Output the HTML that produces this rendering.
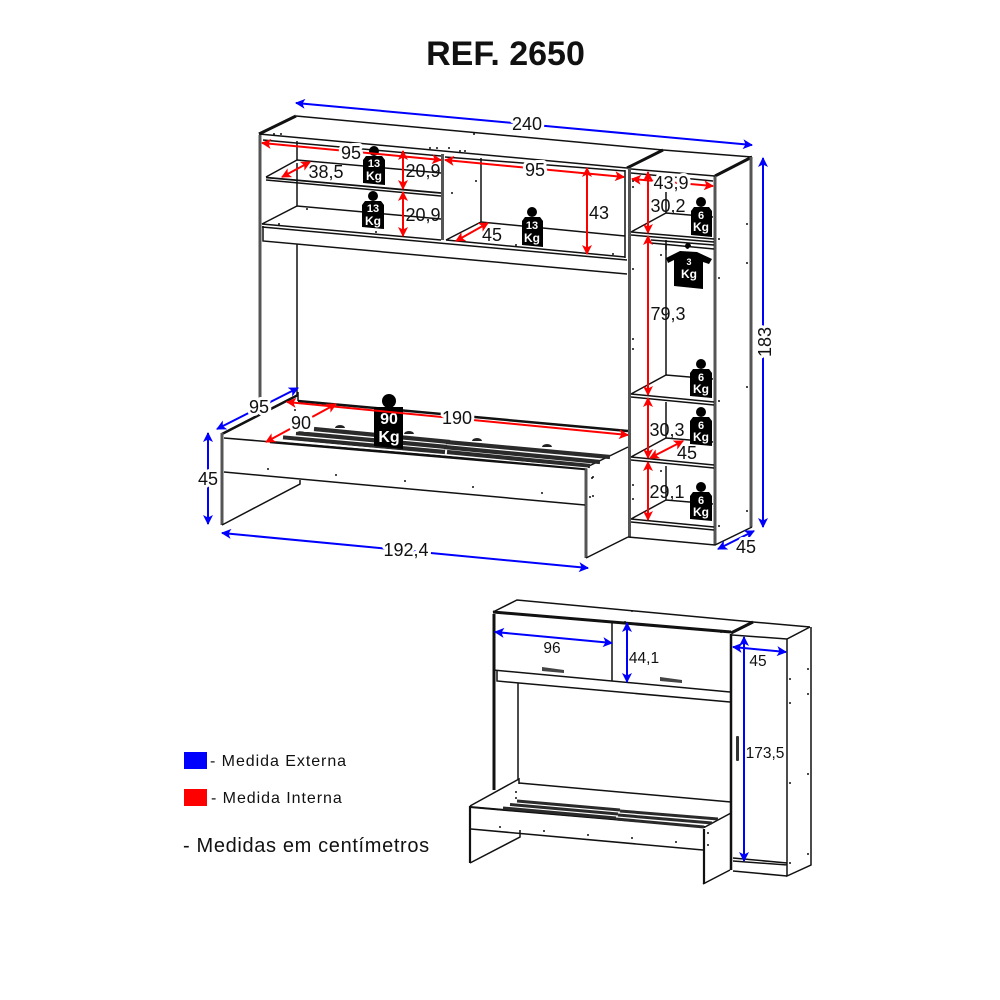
<!DOCTYPE html>
<html><head><meta charset="utf-8">
<style>
html,body{margin:0;padding:0;background:#fff;width:1000px;height:1000px;overflow:hidden}
svg{display:block}
text{font-family:"Liberation Sans",sans-serif;fill:#111}
.l{font-size:18px;text-anchor:middle}
.h{paint-order:stroke;stroke:#fff;stroke-width:6px;stroke-linejoin:round}
.s{font-size:15.5px;text-anchor:middle}
.w{fill:#fff;font-weight:bold;text-anchor:middle}
.k{fill:none;stroke:#111;stroke-width:1.5}
.t{fill:none;stroke:#111;stroke-width:3}
.g{fill:none;stroke:#555;stroke-width:3.5}
.r{stroke:#f00;stroke-width:2;fill:none;marker-start:url(#ra);marker-end:url(#ra)}
.b{stroke:#00f;stroke-width:2;fill:none;marker-start:url(#ba);marker-end:url(#ba)}
.sl{stroke:#2a2a2a;stroke-width:4.2;fill:none}
.sw{stroke:#fff;stroke-width:1;fill:none}
</style></head><body>
<svg width="1000" height="1000" viewBox="0 0 1000 1000" xmlns="http://www.w3.org/2000/svg">
<defs>
<marker id="ra" viewBox="0 0 10 10" refX="9" refY="5" markerWidth="5" markerHeight="5" orient="auto-start-reverse"><path d="M0 0L10 5L0 10L2.5 5Z" fill="#f00"/></marker>
<marker id="ba" viewBox="0 0 10 10" refX="9" refY="5" markerWidth="5" markerHeight="5" orient="auto-start-reverse"><path d="M0 0L10 5L0 10L2.5 5Z" fill="#00f"/></marker>
</defs>
<rect width="1000" height="1000" fill="#fff"/>
<text x="505.500" y="65" text-anchor="middle" style="font-size:34px;font-weight:bold">REF. 2650</text>

<!-- main: upper cabinet -->
<path class="k" d="M296 116L663 150L752 157M259 134L627 168M263 140L441 156M445 157L625 171"/>
<path class="t" d="M259 134L296 116M627 168L663 150M715 176L752 157"/>
<path class="g" d="M260 135V398M629.5 168V537M715 176V545M751 157V527M442.500 154V240" style="stroke-width:3"/>
<path class="k" d="M297 141V160M297 163V206M297 244V395M481 158V222M666 192V213M666 240V375M666 402V438M666 466V500"/>
<path class="k" d="M715 176L631 169M631 173L713 181"/>
<!-- shelves left -->
<path class="k" d="M266 177L297 160L441 173M266 180L441 196"/>
<path class="t" d="M266 177.500L441 193" style="stroke-width:1.800"/>
<path class="k" d="M262 224L297 206L441 219M263 226V241L627 274"/>
<path class="k" d="M262 224L441 240M262 227L627 260M446 240L481 222L625 236M446 240L625 257M625 170V258" />
<!-- wardrobe shelves -->
<path class="k" d="M631 232L666 213L713 217M631 232L714 239M631 235L714 242M651 240L714 245M651 243L714 249M666 245V250"/>
<path class="k" d="M631 394L666 375L713 379M631 394L714 402M631 397L714 405"/>
<path class="k" d="M631 457L666 438L713 442M631 457L714 465M631 460L714 468"/>
<path class="k" d="M631 519L666 500L713 504M631 519L714 527M631 522L714 530"/>
<path class="k" d="M628 537L715 545L752 527"/>
<!-- bed -->
<path class="t" d="M222 434L298 395" style="stroke-width:2.500"/>
<path class="g" d="M222 433V525M586 468V558" style="stroke-width:3"/>
<path class="k" d="M298 392V401M224 438L587 468M224 472L585 505M222 525L300 484V480M587 467L628 447M586 558L628 537"/>
<path class="t" d="M298 401L628 431M270 442L585 469" style="stroke-width:2.500"/>
<!-- slats -->
<path class="sl" d="M314 429L450 442M296 433L447 447M283 437.500L445 452M446 442L610 457M444 447L600 462M447 452L590 466"/>
<path class="sw" d="M274 439L445 455L588 468"/>
<path d="M335 428a5 3 0 0 1 10 0zM404 434a5 3 0 0 1 10 0zM472 441a5 3 0 0 1 10 0zM542 447a5 3 0 0 1 10 0z" fill="#222"/>

<!-- dots -->
<g fill="#111">
<circle cx="274" cy="134" r="1"/><circle cx="281" cy="134" r="1"/><circle cx="474" cy="134" r="1"/><circle cx="430" cy="148" r="1"/><circle cx="437" cy="148" r="1"/><circle cx="449" cy="148" r="1"/><circle cx="460" cy="151" r="1"/><circle cx="465" cy="151" r="1"/><circle cx="476" cy="181" r="1"/><circle cx="452" cy="193" r="1"/><circle cx="307" cy="209" r="1"/><circle cx="279" cy="224" r="1"/><circle cx="376" cy="232" r="1"/><circle cx="516" cy="245" r="1"/><circle cx="613" cy="254" r="1"/><circle cx="633" cy="269" r="1"/><circle cx="633" cy="339" r="1"/><circle cx="633" cy="349" r="1"/><circle cx="633" cy="187" r="1"/><circle cx="633" cy="181" r="1"/><circle cx="661" cy="255" r="1"/><circle cx="719" cy="239" r="1"/><circle cx="719" cy="278" r="1"/><circle cx="747" cy="224" r="1"/><circle cx="747" cy="263" r="1"/><circle cx="747" cy="387" r="1"/><circle cx="719" cy="401" r="1"/><circle cx="747" cy="511" r="1"/><circle cx="719" cy="526" r="1"/><circle cx="661" cy="471" r="1"/><circle cx="633" cy="485" r="1"/><circle cx="633" cy="499" r="1"/><circle cx="268" cy="469" r="1"/><circle cx="336" cy="475" r="1"/><circle cx="405" cy="481" r="1"/><circle cx="473" cy="487" r="1"/><circle cx="542" cy="493" r="1"/><circle cx="592" cy="478" r="1"/><circle cx="593" cy="477" r="1"/><circle cx="590" cy="497" r="1"/><circle cx="593" cy="496" r="1"/><circle cx="295" cy="410" r="1"/>
</g>

<!-- weights -->
<g>
<circle cx="374" cy="151" r="5"/><path d="M366 156H382L385 160V185L363 183V160Z"/>
<circle cx="373" cy="196" r="5"/><path d="M365 201H381L384 205V229L362 227V205Z"/>
<circle cx="532" cy="212" r="5"/><path d="M525 217H540L543 221V247L522 245V221Z"/>
<circle cx="701" cy="202" r="5"/><path d="M694 207H709L712 211V237L691 235V211Z"/>
<circle cx="701" cy="364" r="5"/><path d="M693 369H709L712 373V398L690 396V373Z"/>
<circle cx="701" cy="412" r="5"/><path d="M693 417H709L712 421V446L690 444V421Z"/>
<circle cx="701" cy="487" r="5"/><path d="M693 492H709L712 496V521L690 519V496Z"/>
<circle cx="389" cy="401" r="7"/><path d="M374 407H403V449L374 446Z"/>
<path d="M688 249a3 3 0 1 1 3 -3M680 251L697 252L712 259L709 264L703 262V289L674 286V260L668 263L666 258Z"/>
</g>
<g class="w" style="font-size:11px">
<text class="w" x="374" y="167">13</text><text class="w" x="374" y="180" style="font-size:12px">Kg</text>
<text class="w" x="373" y="212">13</text><text class="w" x="373" y="225" style="font-size:12px">Kg</text>
<text class="w" x="532" y="229">13</text><text class="w" x="532" y="242" style="font-size:12px">Kg</text>
<text class="w" x="701" y="219">6</text><text class="w" x="701" y="231" style="font-size:12px">Kg</text>
<text class="w" x="701" y="381">6</text><text class="w" x="701" y="393" style="font-size:12px">Kg</text>
<text class="w" x="701" y="429">6</text><text class="w" x="701" y="441" style="font-size:12px">Kg</text>
<text class="w" x="701" y="504">6</text><text class="w" x="701" y="516" style="font-size:12px">Kg</text>
<text class="w" x="689" y="265" style="font-size:9px">3</text><text class="w" x="689" y="278" style="font-size:12px">Kg</text>
<text class="w" x="389" y="424" style="font-size:16px">90</text><text class="w" x="389" y="442" style="font-size:16px">Kg</text>
</g>

<!-- red dims -->
<path class="r" d="M262 143L441 160"/>
<path class="r" d="M445 160L624 177"/>
<path class="r" d="M403 151V189"/>
<path class="r" d="M403 192V236"/>
<path class="r" d="M282 177L310 162"/>
<path class="r" d="M456 241L488 223"/>
<path class="r" d="M587 168V254"/>
<path class="r" d="M632 179L713 186"/>
<path class="r" d="M648 172V233"/>
<path class="r" d="M648 236V395"/>
<path class="r" d="M648 398V458"/>
<path class="r" d="M650 458L683 441"/>
<path class="r" d="M648 462V520"/>
<path class="r" d="M266 442L336 404"/>
<path class="r" d="M287 402L628 435"/>
<!-- blue dims -->
<path class="b" d="M296 103L752 145"/>
<path class="b" d="M763 158V527"/>
<path class="b" d="M718 549L754 531"/>
<path class="b" d="M217 429L298 388"/>
<path class="b" d="M208 433V524"/>
<path class="b" d="M222 533L588 568"/>

<!-- labels -->
<text class="l h" x="527" y="130">240</text>
<text class="l h" x="351" y="159">95</text>
<text class="l h" x="535" y="176">95</text>
<text class="l" x="423" y="177">20,9</text>
<text class="l" x="423" y="221">20,9</text>
<text class="l" x="326" y="178">38,5</text>
<text class="l" x="492" y="241">45</text>
<text class="l" x="599" y="219">43</text>
<text class="l h" x="671" y="189">43,9</text>
<text class="l" x="668" y="212">30,2</text>
<text class="l" x="668" y="320">79,3</text>
<text class="l" x="667" y="436">30,3</text>
<text class="l" x="687" y="459">45</text>
<text class="l" x="667" y="498">29,1</text>
<text class="l h" x="746" y="553">45</text>
<text class="l h" transform="translate(771,342) rotate(-90)" x="0" y="0">183</text>
<text class="l h" x="259" y="413">95</text>
<text class="l h" x="208" y="485">45</text>
<text class="l h" x="406" y="556">192,4</text>
<text class="l h" x="301" y="429">90</text>
<text class="l h" x="457" y="424">190</text>

<!-- small figure -->
<path class="k" d="M493 612L517 600L753 622L810 627M732 635L787 639L810 627M612 623V681"/>
<path class="t" d="M493 612L731 632M731 633L753 622M494 614V790"/>
<path class="k" d="M493 670L730 692M497 670V681L730 702M518 683V780"/>
<path class="t" d="M731 634V870" style="stroke-width:2.500"/>
<path class="k" d="M733 861L787 865V861M733 871L787 876M787 639V876L811 865V627"/>
<path class="k" d="M733 858L787 863" />
<path class="k" d="M470 806L519 779V784M519 783L731 802M470 807L705 827L731 813M471 829L703 850M470 863L520 837V830M703 884L730 870"/>
<path class="t" d="M470 806V863M704 829V884" style="stroke-width:2.200"/>
<path class="t" d="M470 807L705 827" style="stroke-width:2"/>
<path class="sl" style="stroke-width:3" d="M517 801L620 810M510 804.500L618 814M503 808L616 818M620 811L718 819M618 815L712 823M616 819L704 827"/>
<path d="M542 667L564 670V673L542 671Z" fill="#444"/>
<path d="M660 677L682 680V683L660 681Z" fill="#444"/>
<rect x="736" y="736" width="3" height="25" rx="1" fill="#333"/>
<g fill="#111">
<circle cx="632" cy="611" r="1"/><circle cx="500" cy="613" r="1"/><circle cx="505" cy="613" r="1"/><circle cx="603" cy="621" r="1"/><circle cx="625" cy="622" r="1"/><circle cx="721" cy="632" r="1"/><circle cx="808" cy="669" r="1"/><circle cx="790" cy="679" r="1"/><circle cx="808" cy="694" r="1"/><circle cx="790" cy="703" r="1"/><circle cx="808" cy="774" r="1"/><circle cx="790" cy="783" r="1"/><circle cx="808" cy="854" r="1"/><circle cx="790" cy="863" r="1"/><circle cx="500" cy="827" r="1"/><circle cx="544" cy="831" r="1"/><circle cx="588" cy="835" r="1"/><circle cx="632" cy="838" r="1"/><circle cx="676" cy="842" r="1"/><circle cx="708" cy="833" r="1"/><circle cx="708" cy="845" r="1"/><circle cx="516" cy="792" r="1"/><circle cx="516" cy="798" r="1"/>
</g>
<path class="b" d="M495 632L612 643"/>
<path class="b" d="M627 623V682"/>
<path class="b" d="M733 647L786 652"/>
<path class="b" d="M744 637V861"/>
<text class="s" x="552" y="653">96</text>
<text class="s" x="644" y="663">44,1</text>
<text class="s" x="758" y="666">45</text>
<text class="s h" x="765" y="758" style="stroke-width:3px">173,5</text>

<!-- legend -->
<rect x="184" y="752" width="23" height="17" fill="#00f"/>
<rect x="184" y="789" width="23" height="17" fill="#f00"/>
<text x="210" y="766" style="font-size:16px;letter-spacing:.95px">- Medida Externa</text>
<text x="211" y="803" style="font-size:16px;letter-spacing:.95px">- Medida Interna</text>
<text x="183" y="852" style="font-size:20px;letter-spacing:.65px">- Medidas em centímetros</text>
</svg>
</body></html>
